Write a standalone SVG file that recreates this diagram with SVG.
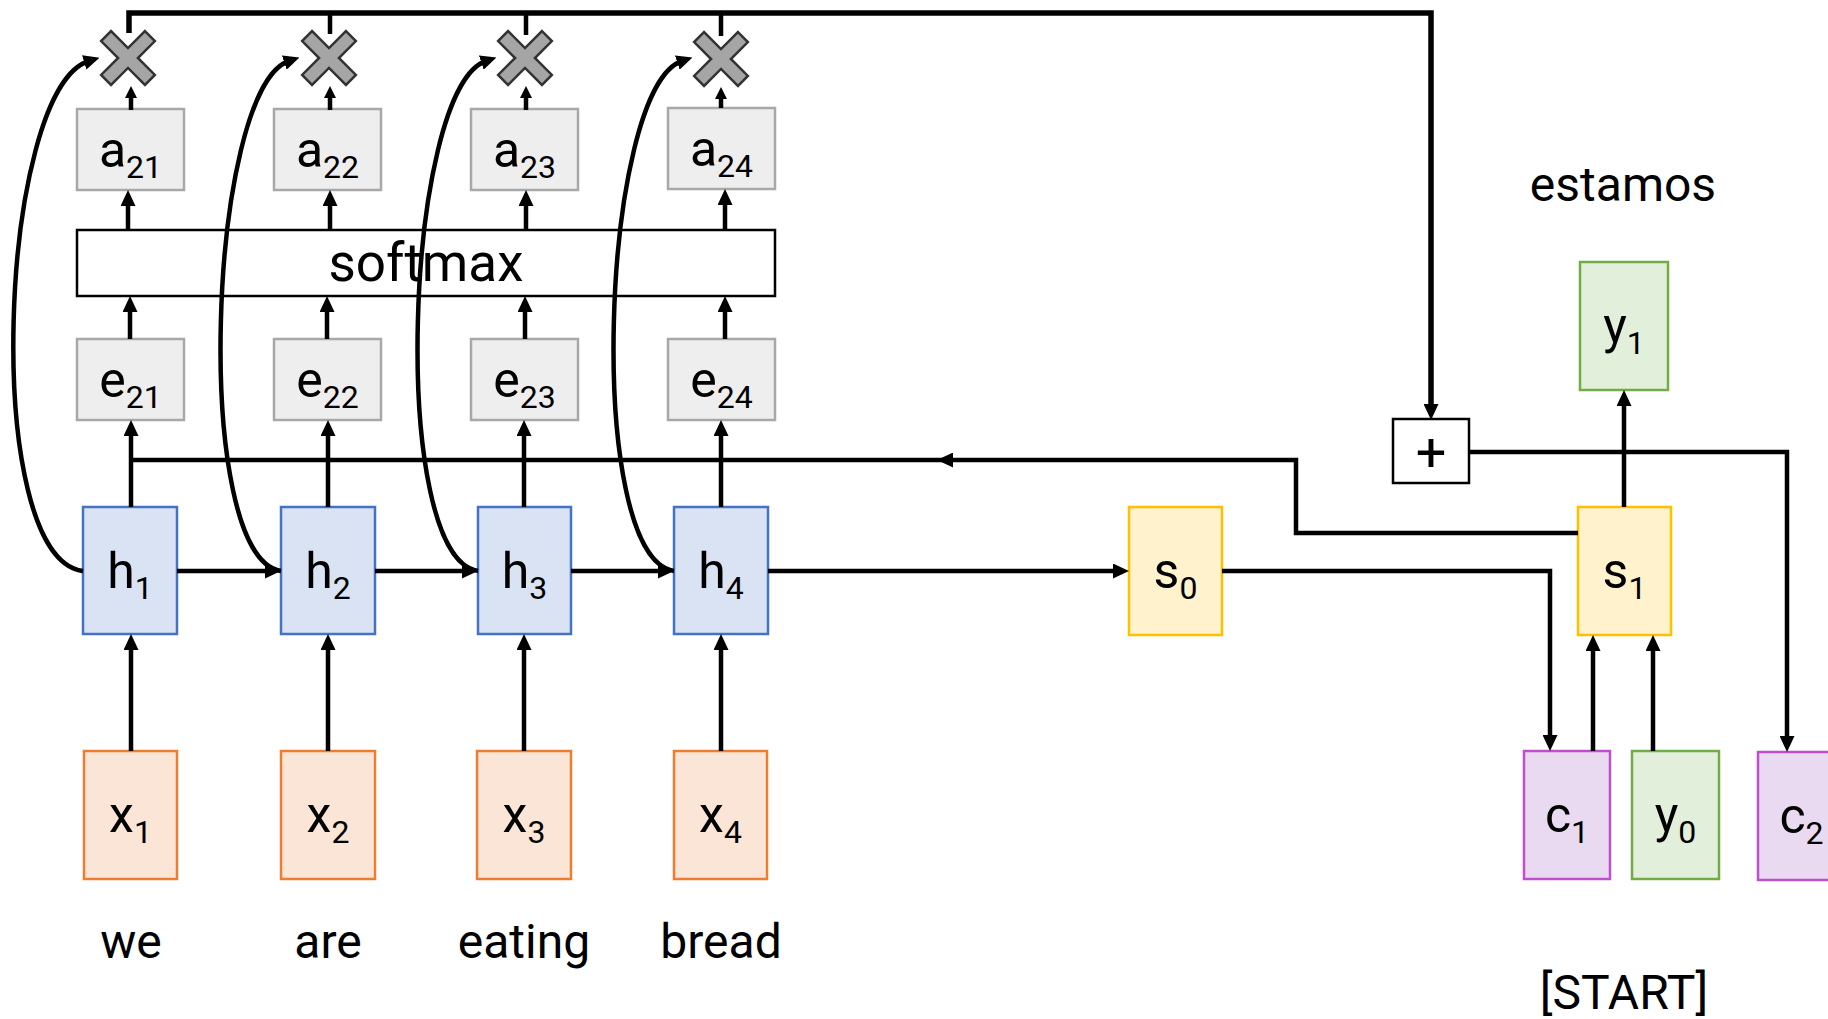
<svg xmlns="http://www.w3.org/2000/svg" xmlns:xlink="http://www.w3.org/1999/xlink" width="1828" height="1019" viewBox="0 0 1828 1019">
<style>
.lbl{font-family:Roboto,"Liberation Sans",sans-serif;font-size:50px;text-anchor:middle;fill:#000}
.sub{font-size:32px}
.word{font-family:Roboto,"Liberation Sans",sans-serif;font-size:48px;text-anchor:middle;fill:#000}
.gray{fill:#eeeeee;stroke:#a8a8a8;stroke-width:2.5}
.hb{fill:#dae3f3;stroke:#4472c4;stroke-width:2.5}
.xb{fill:#fbe5d6;stroke:#ed7d31;stroke-width:2.5}
.sb{fill:#fff2cc;stroke:#ffc000;stroke-width:2.5}
.cb{fill:#e9daf1;stroke:#bf4fcc;stroke-width:2.5}
.yb{fill:#e2efda;stroke:#70ad47;stroke-width:2.5}
.plain{fill:#ffffff;stroke:#000;stroke-width:2.5}
.ln{fill:none;stroke:#000;stroke-width:4.5}
.ar{fill:none;stroke:#000;stroke-width:4.5;marker-end:url(#ah)}
.ars{fill:none;stroke:#000;stroke-width:4.5;marker-end:url(#ahs)}
.xm{fill:#a5a5a5;stroke:#333;stroke-width:2.5;stroke-linejoin:miter}
</style>
<defs>
<marker id="ah" markerUnits="userSpaceOnUse" viewBox="0 0 16 15" markerWidth="16" markerHeight="15" refX="5" refY="7.5" orient="auto"><path d="M0,0 L16,7.5 L0,15 z" fill="#000"/></marker>
<marker id="ahs" markerUnits="userSpaceOnUse" viewBox="0 0 12 12" markerWidth="12" markerHeight="12" refX="4" refY="6" orient="auto"><path d="M0,0 L12,6 L0,12 z" fill="#000"/></marker>
<polygon id="cross" class="xm" transform="rotate(45)" points="-7,-31 7,-31 7,-7 31,-7 31,7 7,7 7,31 -7,31 -7,7 -31,7 -31,-7 -7,-7"/>
</defs>
<rect width="1828" height="1019" fill="#fff"/>

<g id="softmax"><rect class="plain" x="77" y="230" width="698" height="66"/><text class="lbl" x="426" y="281" style="font-size:53px">softmax</text></g>

<g id="a21"><rect class="gray" x="77" y="109" width="107" height="81"/><text class="lbl" x="130.5" y="167">a<tspan class="sub" dy="11">21</tspan></text></g>
<g id="a22"><rect class="gray" x="274" y="109" width="107" height="81"/><text class="lbl" x="327.5" y="167">a<tspan class="sub" dy="11">22</tspan></text></g>
<g id="a23"><rect class="gray" x="471" y="109" width="107" height="81"/><text class="lbl" x="524.5" y="167">a<tspan class="sub" dy="11">23</tspan></text></g>
<g id="a24"><rect class="gray" x="668" y="108" width="107" height="81"/><text class="lbl" x="721.5" y="166">a<tspan class="sub" dy="11">24</tspan></text></g>

<g id="e21"><rect class="gray" x="77" y="339" width="107" height="81"/><text class="lbl" x="130.5" y="397">e<tspan class="sub" dy="11">21</tspan></text></g>
<g id="e22"><rect class="gray" x="274" y="339" width="107" height="81"/><text class="lbl" x="327.5" y="397">e<tspan class="sub" dy="11">22</tspan></text></g>
<g id="e23"><rect class="gray" x="471" y="339" width="107" height="81"/><text class="lbl" x="524.5" y="397">e<tspan class="sub" dy="11">23</tspan></text></g>
<g id="e24"><rect class="gray" x="668" y="339" width="107" height="81"/><text class="lbl" x="721.5" y="397">e<tspan class="sub" dy="11">24</tspan></text></g>

<g id="h1"><rect class="hb" x="83" y="507" width="94" height="127"/><text class="lbl" x="130" y="588">h<tspan class="sub" dy="11">1</tspan></text></g>
<g id="h2"><rect class="hb" x="281" y="507" width="94" height="127"/><text class="lbl" x="328" y="588">h<tspan class="sub" dy="11">2</tspan></text></g>
<g id="h3"><rect class="hb" x="478" y="507" width="93" height="127"/><text class="lbl" x="524.5" y="588">h<tspan class="sub" dy="11">3</tspan></text></g>
<g id="h4"><rect class="hb" x="674" y="507" width="94" height="127"/><text class="lbl" x="721" y="588">h<tspan class="sub" dy="11">4</tspan></text></g>

<g id="x1"><rect class="xb" x="84" y="751" width="93" height="128"/><text class="lbl" x="130.5" y="832">x<tspan class="sub" dy="11">1</tspan></text></g>
<g id="x2"><rect class="xb" x="281" y="751" width="94" height="128"/><text class="lbl" x="328" y="832">x<tspan class="sub" dy="11">2</tspan></text></g>
<g id="x3"><rect class="xb" x="477" y="751" width="94" height="128"/><text class="lbl" x="524" y="832">x<tspan class="sub" dy="11">3</tspan></text></g>
<g id="x4"><rect class="xb" x="674" y="751" width="93" height="128"/><text class="lbl" x="720.5" y="832">x<tspan class="sub" dy="11">4</tspan></text></g>

<g id="mul1"><use xlink:href="#cross" href="#cross" transform="translate(128,58)"/></g>
<g id="mul2"><use xlink:href="#cross" href="#cross" transform="translate(329,58)"/></g>
<g id="mul3"><use xlink:href="#cross" href="#cross" transform="translate(525,58)"/></g>
<g id="mul4"><use xlink:href="#cross" href="#cross" transform="translate(721,59)"/></g>

<g id="s0"><rect class="sb" x="1129" y="507" width="93" height="128"/><text class="lbl" x="1175.5" y="588">s<tspan class="sub" dy="11">0</tspan></text></g>
<g id="s1"><rect class="sb" x="1578" y="507" width="93" height="128"/><text class="lbl" x="1624.5" y="588">s<tspan class="sub" dy="11">1</tspan></text></g>
<g id="y1"><rect class="yb" x="1580" y="262" width="88" height="128"/><text class="lbl" x="1624" y="343">y<tspan class="sub" dy="11">1</tspan></text></g>
<g id="c1"><rect class="cb" x="1524" y="751" width="86" height="128"/><text class="lbl" x="1567" y="832">c<tspan class="sub" dy="11">1</tspan></text></g>
<g id="y0"><rect class="yb" x="1632" y="751" width="87" height="128"/><text class="lbl" x="1675.5" y="832">y<tspan class="sub" dy="11">0</tspan></text></g>
<g id="c2"><rect class="cb" x="1758" y="752" width="87" height="128"/><text class="lbl" x="1801.5" y="833">c<tspan class="sub" dy="11">2</tspan></text></g>
<g id="plus"><rect class="plain" x="1393" y="419" width="76" height="64"/><text class="lbl" x="1431" y="471" style="font-size:54px">+</text></g>

<g id="words">
<text class="word" x="131" y="958">we</text>
<text class="word" x="328" y="958">are</text>
<text class="word" x="524" y="958">eating</text>
<text class="word" x="721" y="958">bread</text>
<text class="word" x="1623" y="201">estamos</text>
<text class="word" x="1624" y="1009">[START]</text>
</g>

<g id="connectors">
<path class="ar" style="stroke-width:5.5" d="M129,33 V13 H1431 V409"/>
<path class="ln" d="M330,13 V34 M526,13 V35 M721,13 V36"/>
<path class="ars" d="M131,110 V94"/>
<path class="ars" d="M330,110 V94"/>
<path class="ars" d="M526,110 V94"/>
<path class="ars" d="M721,108 V95"/>
<path class="ar" d="M128,230 V201"/>
<path class="ar" d="M330,230 V201"/>
<path class="ar" d="M526,230 V201"/>
<path class="ar" d="M725,230 V200"/>
<path class="ar" d="M130,339 V307"/>
<path class="ar" d="M327,339 V307"/>
<path class="ar" d="M525,339 V307"/>
<path class="ar" d="M725,339 V307"/>
<path class="ar" d="M131,507 V431"/>
<path class="ar" d="M328,507 V431"/>
<path class="ar" d="M524,507 V431"/>
<path class="ar" d="M721,507 V431"/>
<path class="ar" d="M131,751 V645"/>
<path class="ar" d="M328,751 V645"/>
<path class="ar" d="M524,751 V645"/>
<path class="ar" d="M721,751 V645"/>
<path class="ar" d="M177,571 H270"/>
<path class="ar" d="M375,571 H467"/>
<path class="ar" d="M571,571 H663"/>
<path class="ar" d="M768,571 H1118"/>
<path class="ar" d="M1222,571 H1550 V740"/>
<path class="ar" d="M1469,452 H1787 V741"/>
<path class="ar" d="M1593,751 V646"/>
<path class="ar" d="M1653,751 V646"/>
<path class="ar" d="M1624,507 V401"/>
<path class="ar" d="M1578,533 H1296 V460 H948"/>
<path class="ln" d="M948,460 H131"/>
<path class="ar" d="M83,571 C-20,558 -1,88 89,61"/>
<path class="ar" d="M281,571 C191,558 208,88 289,61"/>
<path class="ar" d="M478,571 C388,558 405,88 486,61"/>
<path class="ar" d="M674,571 C584,558 601,88 682,61"/>
</g>
</svg>
